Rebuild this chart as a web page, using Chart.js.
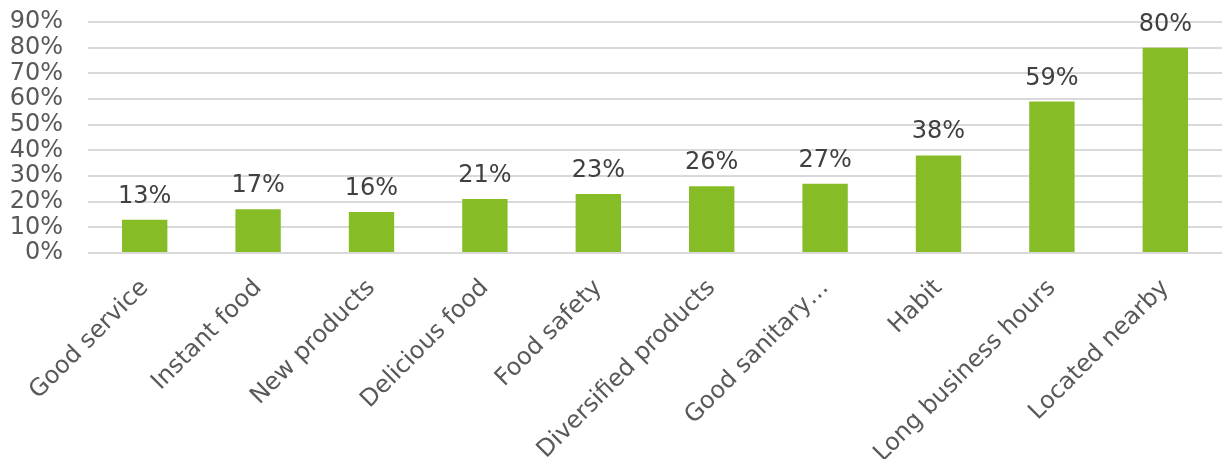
<!DOCTYPE html>
<html>
<head>
<meta charset="utf-8">
<script src="https://cdn.jsdelivr.net/npm/chart.js@4/dist/chart.umd.min.js"></script>
<style>
  html, body { margin: 0; padding: 0; background: #fff; }
  #wrap { width: 1224px; height: 459px; }
</style>
</head>
<body>
<div id="wrap"><canvas id="chart"></canvas></div>
<script>
const categories = [
  "Good service", "Instant food", "New products", "Delicious food", "Food safety",
  "Diversified products", "Good sanitary…", "Habit", "Long business hours", "Located nearby",
];
const shares = [13, 17, 16, 21, 23, 26, 27, 38, 59, 80];
const yMax = 90;
const yStep = 10;

const FONT = "'DejaVu Sans', Verdana, sans-serif";
const TEXT = "#595959";
const GREEN = "#86BC25";
const GRID = "#D9D9D9";

// percentage labels above each bar
const valueLabels = {
  id: "valueLabels",
  afterDatasetsDraw(chart) {
    const ctx = chart.ctx;
    const meta = chart.getDatasetMeta(0);
    ctx.save();
    ctx.font = "24px " + FONT;
    ctx.fillStyle = "#404040";
    ctx.textAlign = "center";
    ctx.textBaseline = "alphabetic";
    meta.data.forEach((bar, i) => {
      ctx.fillText(shares[i] + "%", bar.x, bar.y - 17);
    });
    ctx.restore();
  },
};

new Chart(document.getElementById("chart"), {
  type: "bar",
  data: {
    labels: categories,
    datasets: [{
      data: shares,
      backgroundColor: GREEN,
      borderWidth: 0,
      categoryPercentage: 1,
      barPercentage: 0.4,
    }],
  },
  options: {
    responsive: true,
    maintainAspectRatio: false,
    animation: false,
    layout: { padding: { top: 0, right: 2, left: 0, bottom: 0 } },
    plugins: {
      legend: { display: false },
      tooltip: { enabled: false },
    },
    scales: {
      x: {
        grid: { display: false },
        border: { display: false },
        ticks: {
          color: TEXT,
          font: { family: FONT, size: 24 },
          minRotation: 45,
          maxRotation: 45,
          autoSkip: false,
          padding: 13,
        },
        afterFit(scale) { scale.height = 206; },
      },
      y: {
        min: 0,
        max: yMax,
        grid: { color: GRID, lineWidth: 2, drawTicks: false },
        border: { display: false },
        ticks: {
          stepSize: yStep,
          autoSkip: false,
          color: TEXT,
          font: { family: FONT, size: 24 },
          padding: 25,
          callback: (v) => v + "%",
        },
        afterFit(scale) {
          scale.width = 88;
          scale.paddingTop = 22;
          scale.paddingBottom = 0;
        },
      },
    },
  },
  plugins: [valueLabels],
});
</script>
</body>
</html>
